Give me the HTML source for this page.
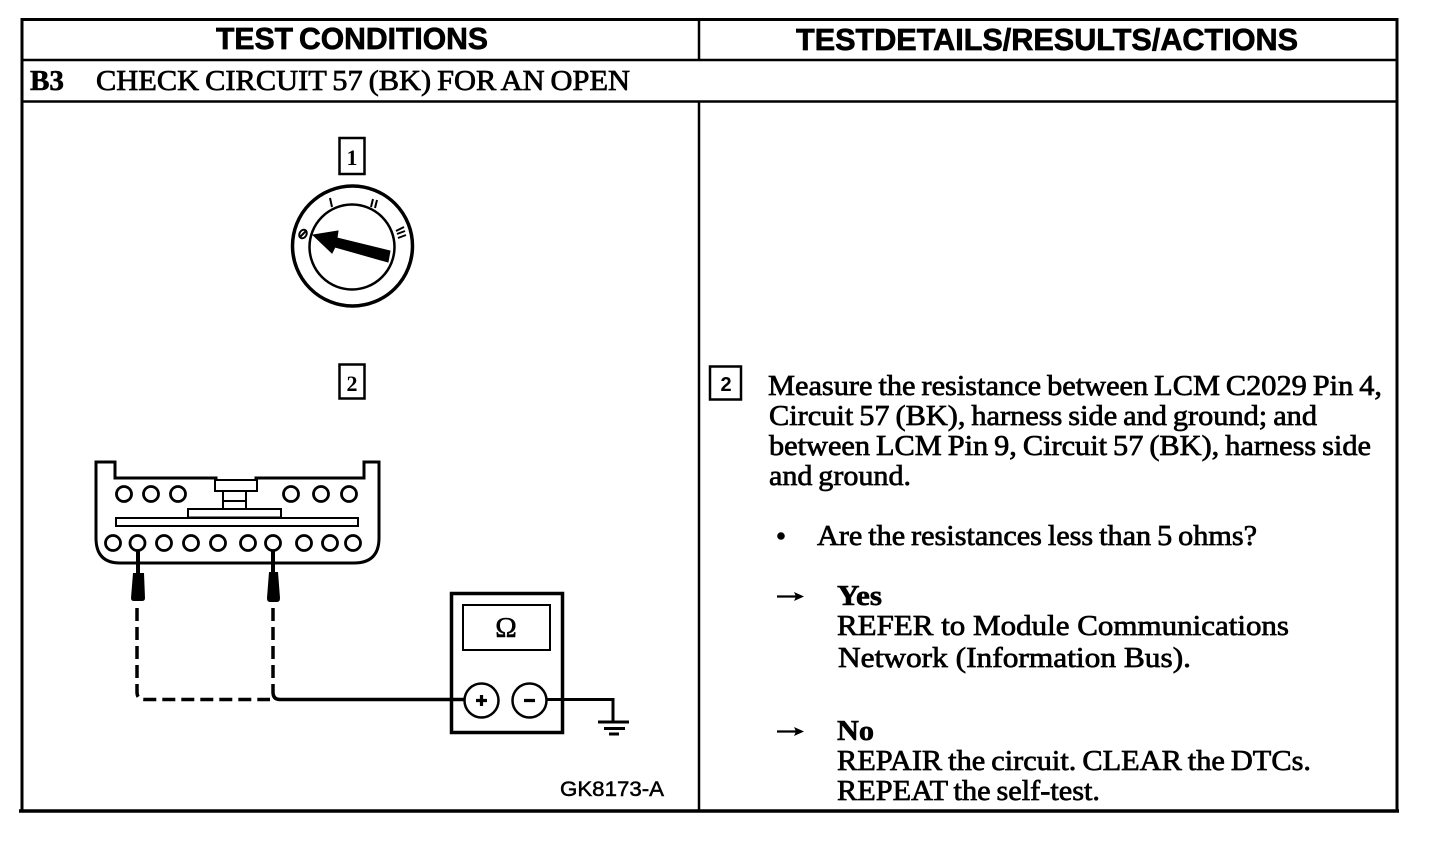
<!DOCTYPE html>
<html><head><meta charset="utf-8"><style>
html,body{margin:0;padding:0;background:#fff}
svg{display:block}
.s{font-family:"Liberation Serif",serif;font-size:28px;fill:#000;stroke:#000;stroke-width:.7px;word-spacing:-1.500px}
.b{font-family:"Liberation Serif",serif;font-size:28px;font-weight:bold;fill:#000;stroke:#000;stroke-width:.6px}
.h{font-family:"Liberation Sans",sans-serif;font-size:31px;font-weight:bold;fill:#000;stroke:#000;stroke-width:.7px}
</style></head><body>
<svg width="1456" height="848" viewBox="0 0 1456 848" xmlns="http://www.w3.org/2000/svg">
<g fill="none" stroke="#000">
<path d="M22 811V19.500H1397V811" stroke-width="3"/>
<path d="M19 811H1399" stroke-width="3.500"/>
<path d="M23 60H1397M23 101.500H1397" stroke-width="2.500"/>
<path d="M699 20V60M699 101V810" stroke-width="2.500"/>
</g>
<text class="h" x="216" y="49" textLength="77" lengthAdjust="spacingAndGlyphs">TEST</text>
<text class="h" x="299" y="49" textLength="189" lengthAdjust="spacingAndGlyphs">CONDITIONS</text>
<text class="h" x="796" y="50" textLength="502" lengthAdjust="spacingAndGlyphs">TESTDETAILS/RESULTS/ACTIONS</text>
<text class="b" x="30" y="90" textLength="34" lengthAdjust="spacingAndGlyphs">B3</text>
<text class="s" x="96" y="90" textLength="534" lengthAdjust="spacingAndGlyphs">CHECK CIRCUIT 57 (BK) FOR AN OPEN</text>

<!-- step 1 -->
<rect x="339.500" y="138" width="25" height="36" fill="none" stroke="#000" stroke-width="2.500"/>
<text x="352" y="165" font-family="Liberation Serif,serif" font-size="22" font-weight="bold" text-anchor="middle">1</text>
<circle cx="352.500" cy="246" r="60" fill="none" stroke="#000" stroke-width="3.500"/>
<circle cx="352" cy="247" r="42.500" fill="none" stroke="#000" stroke-width="2.500"/>
<path d="M313 235L338 231L337 238L390 251L388 262L335 247L332 253Z" fill="#000" stroke="#000"/>
<g fill="none" stroke="#000" stroke-width="2">
<ellipse cx="303" cy="234" rx="4.500" ry="3.500" transform="rotate(-60 303 234)"/>
<path d="M300 237L306 231"/>
<path d="M330 198L332 207"/>
<path d="M373 199L371 207M377 200L375 208"/>
<path d="M396 231L404 227M397 234L405 231M398 238L406 235"/>
</g>

<!-- step 2 -->
<rect x="339.500" y="364.500" width="25" height="34" fill="none" stroke="#000" stroke-width="2.500"/>
<text x="352" y="391" font-family="Liberation Serif,serif" font-size="22" font-weight="bold" text-anchor="middle">2</text>

<!-- connector -->
<g fill="none" stroke="#000" stroke-width="3">
<path d="M96 462H115V478H216V481H256V478H364V462H379V538Q379 563 354 563H120Q96 563 96 538Z"/>
</g>
<g fill="#fff" stroke="#000" stroke-width="2">
<rect x="215" y="480" width="42" height="11"/>
<path d="M223 491V508M246 491V508M223 501H246" fill="none"/>
<rect x="188" y="509" width="93" height="8.500"/>
<rect x="116" y="518" width="242" height="8"/>
</g>
<g fill="#fff" stroke="#000" stroke-width="2.800">
<circle cx="124" cy="494" r="7.500"/><circle cx="151" cy="494" r="7.500"/><circle cx="178" cy="494" r="7.500"/>
<circle cx="291" cy="494" r="7.500"/><circle cx="321" cy="494" r="7.500"/><circle cx="349" cy="494" r="7.500"/>
<circle cx="113" cy="543" r="7.500"/><circle cx="137.500" cy="543" r="7.500"/><circle cx="164" cy="543" r="7.500"/>
<circle cx="191" cy="543" r="7.500"/><circle cx="218" cy="543" r="7.500"/><circle cx="248" cy="543" r="7.500"/>
<circle cx="273" cy="543" r="7.500"/><circle cx="304" cy="543" r="7.500"/><circle cx="330" cy="543" r="7.500"/>
<circle cx="353" cy="543" r="7.500"/>
</g>
<!-- probes -->
<path d="M138 551V574M273 551V574" stroke="#000" stroke-width="4" fill="none"/>
<path d="M133 573H144L145 598Q145 601 142 601H134Q131 601 131 598Z" fill="#000"/>
<path d="M269 572H278L280 598Q280 602 277 602H270Q267 602 267 598Z" fill="#000"/>
<!-- leads -->
<g fill="none" stroke="#000" stroke-width="3.500">
<path d="M137 608V692Q137 699.500 144 699.500H270" stroke-dasharray="13 6"/>
<path d="M273 608V692" stroke-dasharray="13 6"/>
<path d="M273 692Q273 699.500 280 699.500H465" />
</g>
<!-- meter -->
<rect x="451.500" y="593.500" width="111" height="139" fill="none" stroke="#000" stroke-width="3.500"/>
<rect x="463" y="605" width="87" height="45" fill="none" stroke="#000" stroke-width="2"/>
<text x="506" y="637" font-family="Liberation Serif,serif" font-size="29" text-anchor="middle" stroke="#000" stroke-width=".5">Ω</text>
<circle cx="481.500" cy="700.500" r="17" fill="#fff" stroke="#000" stroke-width="2.500"/>
<circle cx="529.500" cy="700.500" r="17" fill="#fff" stroke="#000" stroke-width="2.500"/>
<path d="M476 700.500H487M481.500 695V706M524 700.500H535" stroke="#000" stroke-width="3.200" fill="none"/>
<path d="M546 699.500H613V721" stroke="#000" stroke-width="3" fill="none"/>
<path d="M598 722H629M604 728.500H625M609 734H619" stroke="#000" stroke-width="3" fill="none"/>
<text x="560" y="796" font-family="Liberation Sans,sans-serif" font-size="21" stroke="#000" stroke-width=".5" textLength="104" lengthAdjust="spacingAndGlyphs">GK8173-A</text>

<!-- right column -->
<rect x="710" y="366.500" width="31" height="33" fill="none" stroke="#000" stroke-width="2.500"/>
<text x="726" y="391" font-family="Liberation Sans,sans-serif" font-size="20" font-weight="bold" text-anchor="middle">2</text>
<text class="s" x="768" y="395" textLength="614" lengthAdjust="spacingAndGlyphs">Measure the resistance between LCM C2029 Pin 4,</text>
<text class="s" x="769" y="425" textLength="548" lengthAdjust="spacingAndGlyphs">Circuit 57 (BK), harness side and ground; and</text>
<text class="s" x="769" y="455" textLength="602" lengthAdjust="spacingAndGlyphs">between LCM Pin 9, Circuit 57 (BK), harness side</text>
<text class="s" x="769" y="485" textLength="142" lengthAdjust="spacingAndGlyphs">and ground.</text>
<circle cx="781" cy="536" r="3.800" fill="#000"/>
<text class="s" x="817" y="545" textLength="440" lengthAdjust="spacingAndGlyphs">Are the resistances less than 5 ohms?</text>
<path d="M777 596.500H796" stroke="#000" stroke-width="2.200" fill="none"/>
<path d="M794 592L804 596.500L794 601L796 596.500Z" fill="#000"/>
<text class="b" x="837" y="605" textLength="45" lengthAdjust="spacingAndGlyphs">Yes</text>
<text class="s" x="837" y="635" textLength="452" lengthAdjust="spacingAndGlyphs" style="word-spacing:0">REFER to  Module Communications</text>
<text class="s" x="838" y="667" textLength="353" lengthAdjust="spacingAndGlyphs" style="word-spacing:0">Network (Information Bus).</text>
<path d="M777 731.500H796" stroke="#000" stroke-width="2.200" fill="none"/>
<path d="M794 727L804 731.500L794 736L796 731.500Z" fill="#000"/>
<text class="b" x="837" y="740" textLength="37" lengthAdjust="spacingAndGlyphs">No</text>
<text class="s" x="837" y="770" textLength="474" lengthAdjust="spacingAndGlyphs">REPAIR the circuit. CLEAR the DTCs.</text>
<text class="s" x="837" y="800" textLength="263" lengthAdjust="spacingAndGlyphs">REPEAT the self-test.</text>
</svg>
</body></html>
